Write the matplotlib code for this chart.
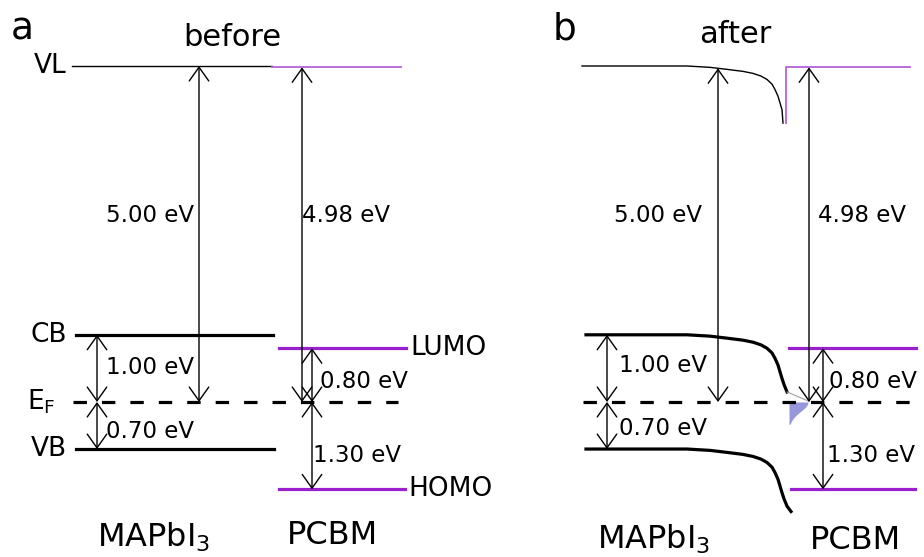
import numpy as np
import matplotlib.pyplot as plt

plt.rcParams['font.family'] = ['DejaVu Sans']
plt.rcParams['mathtext.default'] = 'regular'

# energies in eV, measured from the Fermi level
E_F = 0.0
VL_MAPbI3 = 5.00
CB_MAPbI3 = 1.00
VB_MAPbI3 = -0.70
VL_PCBM = 4.98
LUMO_PCBM = 0.80
HOMO_PCBM = -1.30

# band bending at the MAPbI3/PCBM interface (panel b)
bend_x = [586, 687, 710, 727, 743, 753, 761, 767, 772, 775, 778, 780, 782, 784, 787]
bend_dE = [0.0, 0.0, -0.02, -0.05, -0.08, -0.11, -0.15, -0.20, -0.27, -0.35,
           -0.45, -0.55, -0.65, -0.74, -0.85]

PURPLE = '#9a1fcf'
PURPLE_LIGHT = '#b562d6'
DASH = (4.2, 4.7)

fig = plt.figure(figsize=(9.24, 5.57), dpi=100)
ax = fig.add_axes([0, 0, 1, 1])
ax.set_xlim(0, 924)
ax.set_ylim(-155 / 67.2, 402 / 67.2)
ax.axis('off')


def arrow(x, e0, e1):
    ax.annotate('', xy=(x, e1), xytext=(x, e0),
                arrowprops=dict(arrowstyle='<->,head_length=0.45,head_width=0.32',
                                lw=1.0, color='black', mutation_scale=22,
                                shrinkA=0, shrinkB=0))


def elabel(x, e, s):
    ax.text(x, e, s, fontsize=16.5, ha='center', va='center')


def level_label(x, e, s, ha):
    ax.text(x, e, s, fontsize=19, ha=ha, va='center')


# ---------- panel a: before contact ----------
ax.plot([72, 272], [VL_MAPbI3] * 2, color='black', lw=1.0)
ax.plot([272, 401], [VL_PCBM] * 2, color=PURPLE_LIGHT, lw=1.3)
ax.plot([76, 273], [CB_MAPbI3] * 2, color='black', lw=2.3)
ax.plot([76, 274], [VB_MAPbI3] * 2, color='black', lw=2.3)
ax.plot([73, 398], [E_F] * 2, color='black', lw=2.3, dashes=DASH)
ax.plot([279, 406], [LUMO_PCBM] * 2, color=PURPLE, lw=2.3)
ax.plot([279, 405], [HOMO_PCBM] * 2, color=PURPLE, lw=2.3)

arrow(199, E_F, VL_MAPbI3)
arrow(302, E_F, VL_PCBM)
arrow(97, E_F, CB_MAPbI3)
arrow(97, VB_MAPbI3, E_F)
arrow(312, E_F, LUMO_PCBM)
arrow(312, HOMO_PCBM, E_F)

elabel(150, 2.78, f'{VL_MAPbI3 - E_F:.2f} eV')
elabel(346, 2.78, f'{VL_PCBM - E_F:.2f} eV')
elabel(150, 0.52, f'{CB_MAPbI3 - E_F:.2f} eV')
elabel(150, -0.44, f'{E_F - VB_MAPbI3:.2f} eV')
elabel(364, 0.31, f'{LUMO_PCBM - E_F:.2f} eV')
elabel(357, -0.79, f'{E_F - HOMO_PCBM:.2f} eV')

level_label(67, VL_MAPbI3, 'VL', 'right')
level_label(67, CB_MAPbI3, 'CB', 'right')
level_label(67, VB_MAPbI3, 'VB', 'right')
level_label(27, E_F, 'E$_F$', 'left')
level_label(410, LUMO_PCBM, 'LUMO', 'left')
level_label(408, HOMO_PCBM, 'HOMO', 'left')

ax.text(22, 5.55, 'a', fontsize=27, ha='center', va='center')
ax.text(232, 5.43, 'before', fontsize=22, ha='center', va='center')
ax.text(97, -2.01, 'MAPbI$_3$', fontsize=23, ha='left', va='center')
ax.text(332, -1.99, 'PCBM', fontsize=23, ha='center', va='center')

# ---------- panel b: after contact ----------
bx = np.array(bend_x)
bd = np.array(bend_dE)
# vacuum level bends slightly ahead of the bands, ending at x=783
ax.plot(np.r_[582, bx[1:-2], 783],
        np.r_[VL_MAPbI3, VL_MAPbI3 + bd[1:-2], VL_MAPbI3 + bd[-1]],
        color='black', lw=1.0)
ax.plot(bx, CB_MAPbI3 + bd, color='black', lw=2.3)
ax.plot(np.r_[bx, 791], np.r_[VB_MAPbI3 + bd, VB_MAPbI3 + bd[-1] - 0.08],
        color='black', lw=2.3)
ax.plot([786, 786, 910], [VL_MAPbI3 + bend_dE[-1], VL_PCBM, VL_PCBM],
        color=PURPLE_LIGHT, lw=1.3)
ax.plot([583, 918], [E_F] * 2, color='black', lw=2.3, dashes=DASH)
ax.plot([789, 916], [LUMO_PCBM] * 2, color=PURPLE, lw=2.3)
ax.plot([791, 915], [HOMO_PCBM] * 2, color=PURPLE, lw=2.3)

# electrons accumulated at the interface
ax.plot([787, 809], [CB_MAPbI3 + bend_dE[-1], 0.01], color='#a0a0a0', lw=0.8)
tail_e = np.linspace(0.0, -0.33, 40)
tail_x = 789 + 19 * np.exp(-(tail_e / 0.2) ** 2)
ax.fill_betweenx(tail_e, 789, tail_x, color='#9797dc', lw=0)

vl_at_arrow = VL_MAPbI3 + np.interp(718, bx, bd)
arrow(718, E_F, vl_at_arrow)
arrow(809, E_F, VL_PCBM)
arrow(607, E_F, CB_MAPbI3)
arrow(607, VB_MAPbI3, E_F)
arrow(823, E_F, LUMO_PCBM)
arrow(823, HOMO_PCBM, E_F)

elabel(658, 2.78, f'{VL_MAPbI3 - E_F:.2f} eV')
elabel(862, 2.78, f'{VL_PCBM - E_F:.2f} eV')
elabel(663, 0.55, f'{CB_MAPbI3 - E_F:.2f} eV')
elabel(663, -0.39, f'{E_F - VB_MAPbI3:.2f} eV')
elabel(873, 0.31, f'{LUMO_PCBM - E_F:.2f} eV')
elabel(871, -0.80, f'{E_F - HOMO_PCBM:.2f} eV')

ax.text(565, 5.55, 'b', fontsize=27, ha='center', va='center')
ax.text(735, 5.47, 'after', fontsize=22, ha='center', va='center')
ax.text(597, -2.05, 'MAPbI$_3$', fontsize=23, ha='left', va='center')
ax.text(855, -2.06, 'PCBM', fontsize=23, ha='center', va='center')

fig.savefig('out.png', dpi=100)
